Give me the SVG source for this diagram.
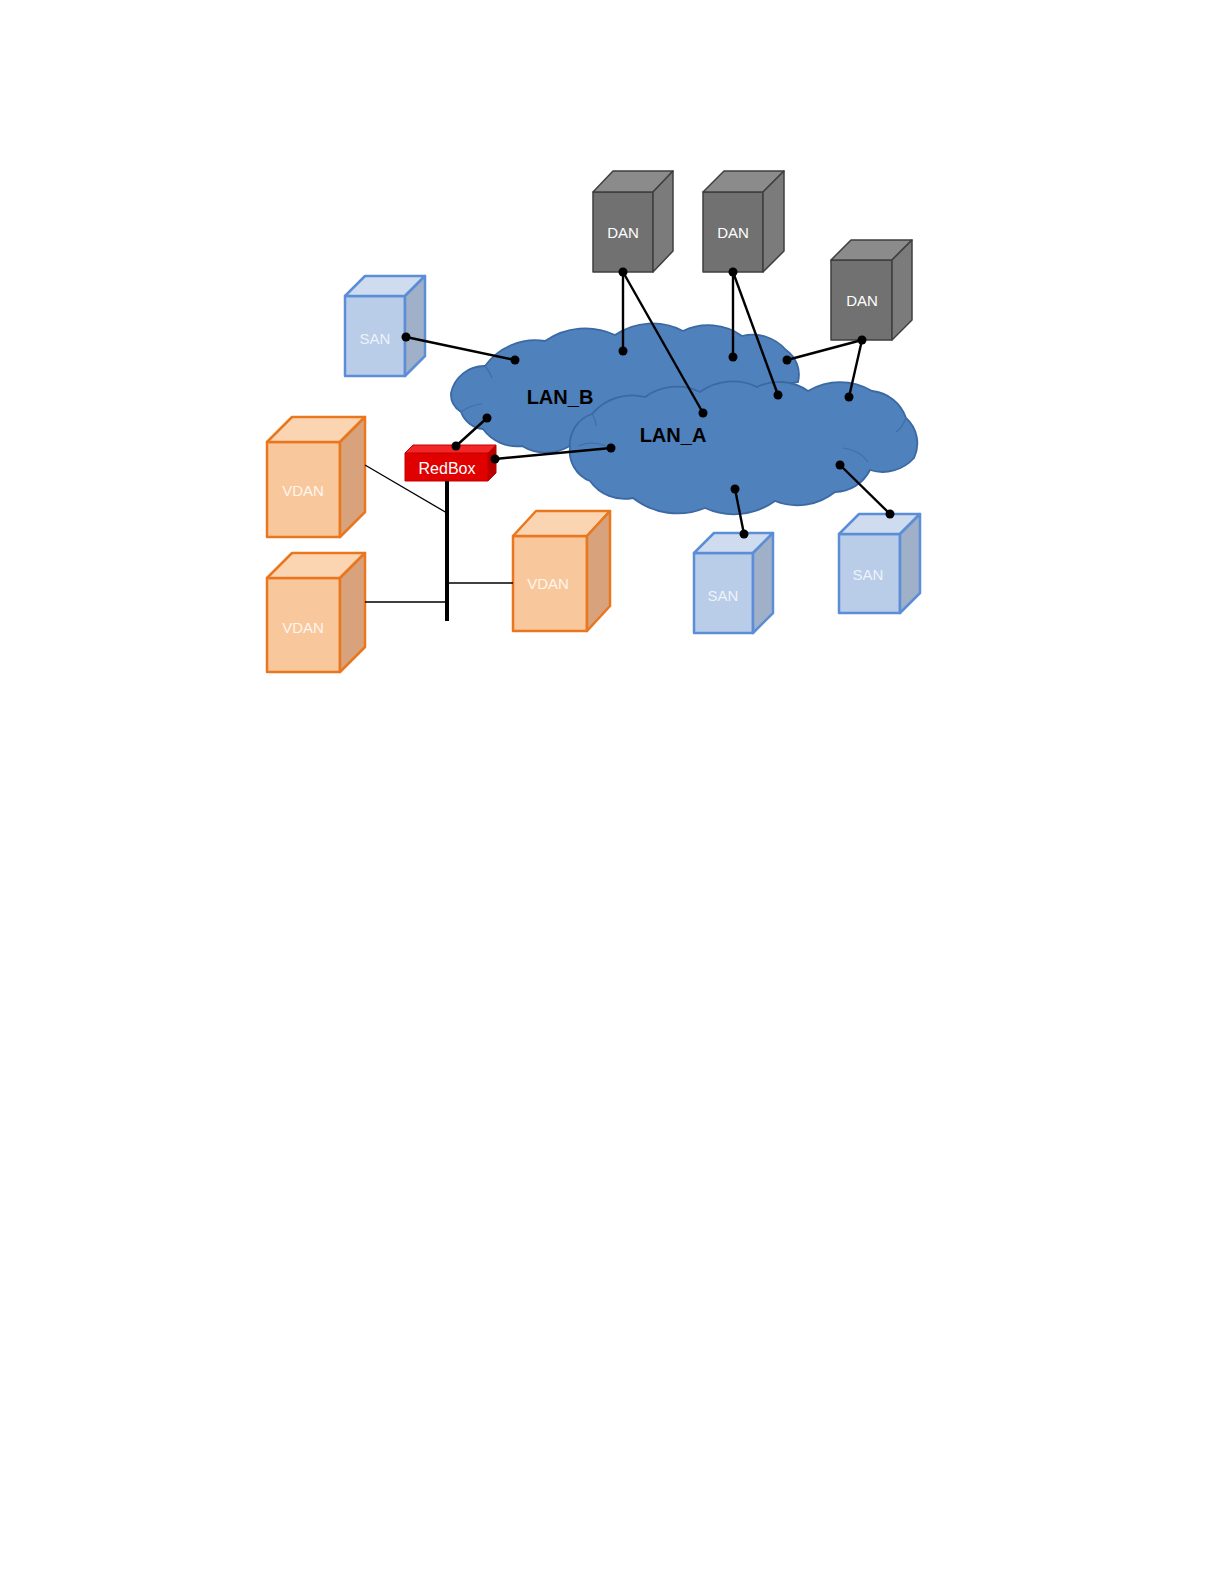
<svg xmlns="http://www.w3.org/2000/svg" width="1224" height="1584" viewBox="0 0 1224 1584">
<style>
.lbl{font-family:"Liberation Sans",Arial,sans-serif;font-size:15px;text-anchor:middle;dominant-baseline:central}
.dan .f{fill:#717171}.dan .t{fill:#8b8b8b}.dan .r{fill:#7b7b7b}
.dan polygon,.dan rect{stroke:#3f3f3f;stroke-width:1.5;stroke-linejoin:round}
.san .f{fill:#b9cce8}.san .t{fill:#cfdcf0}.san .r{fill:#9fb0c8}
.san polygon,.san rect{stroke:#5b8ed6;stroke-width:2.5;stroke-linejoin:round}
.vdan .f{fill:#f9c79c}.vdan .t{fill:#fbd5b2}.vdan .r{fill:#d8a37c}
.vdan polygon,.vdan rect{stroke:#e9771f;stroke-width:2.5;stroke-linejoin:round}
.rb .f{fill:#e00000}.rb .t{fill:#f22626}.rb .r{fill:#b80000}
.rb polygon,.rb rect{stroke:#c40000;stroke-width:1;stroke-linejoin:round}
.cloud{fill:#4f81bd;stroke:#3b69a3;stroke-width:1.8}
.inner{fill:none;stroke:#3f6ea8;stroke-width:1.2}
.lan{font-family:"Liberation Sans",Arial,sans-serif;font-size:20px;font-weight:bold;fill:#000;text-anchor:middle;dominant-baseline:central}
.c{stroke:#000;stroke-width:2.4;fill:none}
.thin{stroke:#000;stroke-width:1.3;fill:none}
.bus{stroke:#000;stroke-width:4;fill:none}
.dot{fill:#000}
</style>

<g id="LAN_B">
<path class="cloud" d="M 451 393 A 34 34 0 0 1 485 366 A 62 62 0 0 1 545 341 A 70 70 0 0 1 615 335 A 66 66 0 0 1 683 331 A 58 58 0 0 1 742 336 A 44 44 0 0 1 786 350 A 30 30 0 0 1 798 382 L 700 400 L 600 420 L 568 447 A 46 46 0 0 1 522 446 A 42 42 0 0 1 483 429 A 26 26 0 0 1 461 412 A 20 20 0 0 1 451 393 Z"/>
<path class="inner" d="M 461 412 Q 470 405 482 404"/>
<path class="inner" d="M 485 366 Q 490 372 492 378"/>
<text class="lan" x="560" y="397">LAN_B</text>
</g>

<g id="LAN_A">
<path class="cloud" d="M 570 447 A 32 32 0 0 1 592 414 A 52 52 0 0 1 645 397 A 54 54 0 0 1 700 392 A 56 56 0 0 1 757 387 A 50 50 0 0 1 808 391 A 62 62 0 0 1 872 391 A 40 40 0 0 1 906 418 A 34 34 0 0 1 914 458 A 42 42 0 0 1 870 470 A 40 40 0 0 1 835 492 A 60 60 0 0 1 775 501 A 70 70 0 0 1 705 508 A 72 72 0 0 1 633 498 A 42 42 0 0 1 590 481 A 32 32 0 0 1 570 447 Z"/>
<path class="inner" d="M 843 448 Q 860 450 868 462"/>
<path class="inner" d="M 578 446 Q 592 440 606 446"/>
<path class="inner" d="M 592 414 Q 596 420 596 426"/>
<path class="inner" d="M 906 418 Q 902 428 896 432"/>
<text class="lan" x="673" y="435">LAN_A</text>
</g>

<g id="SAN1" class="san">
<rect class="f" x="345" y="296" width="60" height="80"/>
<polygon class="t" points="345,296 365,276 425,276 405,296"/>
<polygon class="r" points="405,296 425,276 425,356 405,376"/>
<text class="lbl" x="375" y="338" fill="#eef3fb">SAN</text>
</g>

<g id="DAN1" class="dan">
<rect class="f" x="593" y="192" width="60" height="80"/>
<polygon class="t" points="593,192 613,171 673,171 653,192"/>
<polygon class="r" points="653,192 673,171 673,251 653,272"/>
<text class="lbl" x="623" y="232" fill="#ffffff">DAN</text>
</g>

<g id="DAN2" class="dan">
<rect class="f" x="703" y="192" width="60" height="80"/>
<polygon class="t" points="703,192 724,171 784,171 763,192"/>
<polygon class="r" points="763,192 784,171 784,251 763,272"/>
<text class="lbl" x="733" y="232" fill="#ffffff">DAN</text>
</g>

<g id="DAN3" class="dan">
<rect class="f" x="831" y="260" width="61" height="80"/>
<polygon class="t" points="831,260 851,240 912,240 892,260"/>
<polygon class="r" points="892,260 912,240 912,320 892,340"/>
<text class="lbl" x="862" y="300" fill="#ffffff">DAN</text>
</g>

<g id="SAN2" class="san">
<rect class="f" x="694" y="553" width="59" height="80"/>
<polygon class="t" points="694,553 714,533 773,533 753,553"/>
<polygon class="r" points="753,553 773,533 773,613 753,633"/>
<text class="lbl" x="723" y="595" fill="#eef3fb">SAN</text>
</g>

<g id="SAN3" class="san">
<rect class="f" x="839" y="534" width="61" height="79"/>
<polygon class="t" points="839,534 859,514 920,514 900,534"/>
<polygon class="r" points="900,534 920,514 920,593 900,613"/>
<text class="lbl" x="868" y="574" fill="#eef3fb">SAN</text>
</g>

<g id="VDAN1" class="vdan">
<rect class="f" x="267" y="442" width="73" height="95"/>
<polygon class="t" points="267,442 292,417 365,417 340,442"/>
<polygon class="r" points="340,442 365,417 365,512 340,537"/>
<text class="lbl" x="303" y="490" fill="#fff6ee">VDAN</text>
</g>

<g id="VDAN2" class="vdan">
<rect class="f" x="267" y="578" width="73" height="94"/>
<polygon class="t" points="267,578 292,553 365,553 340,578"/>
<polygon class="r" points="340,578 365,553 365,647 340,672"/>
<text class="lbl" x="303" y="627" fill="#fff6ee">VDAN</text>
</g>

<g id="VDAN3" class="vdan">
<rect class="f" x="513" y="536" width="74" height="95"/>
<polygon class="t" points="513,536 536,511 610,511 587,536"/>
<polygon class="r" points="587,536 610,511 610,606 587,631"/>
<text class="lbl" x="548" y="583" fill="#fff6ee">VDAN</text>
</g>

<g id="RedBox" class="rb">
<rect class="f" x="405" y="453" width="83" height="28"/>
<polygon class="t" points="405,453 413,445 496,445 488,453"/>
<polygon class="r" points="488,453 496,445 496,473 488,481"/>
<text class="lbl" x="447" y="468" fill="#ffffff" style="font-size:16px">RedBox</text>
</g>

<g id="connectors">
<line class="c" x1="406" y1="337" x2="515" y2="360"/>
<line class="c" x1="623" y1="272" x2="623" y2="351"/>
<line class="c" x1="623" y1="272" x2="703" y2="413"/>
<line class="c" x1="733" y1="272" x2="733" y2="357"/>
<line class="c" x1="733" y1="272" x2="778" y2="395"/>
<line class="c" x1="862" y1="340" x2="787" y2="360"/>
<line class="c" x1="862" y1="340" x2="849" y2="397"/>
<line class="c" x1="735" y1="489" x2="744" y2="534"/>
<line class="c" x1="840" y1="465" x2="890" y2="514"/>
<line class="c" x1="456" y1="446" x2="487" y2="418"/>
<line class="c" x1="495" y1="459" x2="611" y2="448"/>
<line class="bus" x1="447" y1="481" x2="447" y2="621"/>
<line class="thin" x1="365" y1="465" x2="447" y2="513"/>
<line class="thin" x1="365" y1="602" x2="447" y2="602"/>
<line class="thin" x1="447" y1="583" x2="513" y2="583"/>
<g class="dot">
<circle cx="406" cy="337" r="4.5"/><circle cx="515" cy="360" r="4.5"/>
<circle cx="623" cy="272" r="4.5"/><circle cx="623" cy="351" r="4.5"/><circle cx="703" cy="413" r="4.5"/>
<circle cx="733" cy="272" r="4.5"/><circle cx="733" cy="357" r="4.5"/><circle cx="778" cy="395" r="4.5"/>
<circle cx="862" cy="340" r="4.5"/><circle cx="787" cy="360" r="4.5"/><circle cx="849" cy="397" r="4.5"/>
<circle cx="735" cy="489" r="4.5"/><circle cx="744" cy="534" r="4.5"/>
<circle cx="840" cy="465" r="4.5"/><circle cx="890" cy="514" r="4.5"/>
<circle cx="456" cy="446" r="4.5"/><circle cx="487" cy="418" r="4.5"/>
<circle cx="495" cy="459" r="4.5"/><circle cx="611" cy="448" r="4.5"/>
</g>
</g>
</svg>
